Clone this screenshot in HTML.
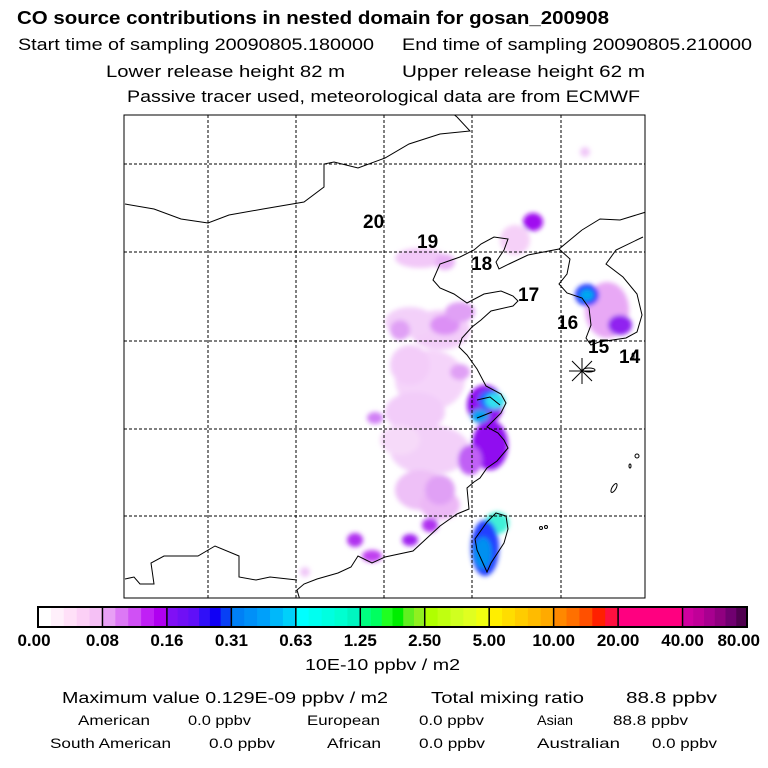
<!DOCTYPE html>
<html><head><meta charset="utf-8"><style>
html,body{margin:0;padding:0;background:#fff;}
svg{display:block;font-family:"Liberation Sans",sans-serif;}
</style></head><body>
<svg width="768" height="768" viewBox="0 0 768 768" id="svg">
<defs>
<filter id="blur" x="-30%" y="-30%" width="160%" height="160%"><feGaussianBlur stdDeviation="2.5"/></filter>
<clipPath id="mapclip"><rect x="124" y="115" width="521" height="483"/></clipPath>
</defs>
<g>
<text x="17" y="24" font-size="18" font-weight="bold" textLength="592" lengthAdjust="spacingAndGlyphs">CO  source contributions in nested domain for gosan_200908</text>
<text x="18" y="50" font-size="17" textLength="356" lengthAdjust="spacingAndGlyphs">Start time of sampling 20090805.180000</text>
<text x="402" y="50" font-size="17" textLength="350" lengthAdjust="spacingAndGlyphs">End time of sampling 20090805.210000</text>
<text x="106" y="77" font-size="17" textLength="239" lengthAdjust="spacingAndGlyphs">Lower release height   82 m</text>
<text x="402" y="77" font-size="17" textLength="243" lengthAdjust="spacingAndGlyphs">Upper release height   62 m</text>
<text x="127" y="102" font-size="17" textLength="513" lengthAdjust="spacingAndGlyphs">Passive tracer used, meteorological data are from ECMWF</text>
</g>
<g id="plume" clip-path="url(#mapclip)" filter="url(#blur)"></g>
<g id="grid"></g>
<g fill="none" stroke="#000" stroke-width="1" clip-path="url(#mapclip)">
<polyline points="125,204 154,209 181,219 208,223 229,215 263,209 304,202 324,187 324,164 334,162 358,168 385,158 409,144 440,134 470,131 457,117 452,113"/>
<polyline points="582,230 559,249 528,255 509,264 499,269 496,262 504,250 508,239 494,237 481,244 474,250 460,257 440,264 433,280 440,288 454,294 467,303 484,294 501,291 513,296 518,301 513,306 491,311 481,320 472,327 462,338 459,347 467,355 477,369 486,386 501,394 506,403 501,413 494,420 487,427 498,433 504,440 508,448 497,461 487,468 480,478 474,482 467,488 469,509 457,514 440,526 426,539 413,551 385,557 372,563 358,556 351,567 338,573 317,579 304,584 297,590 300,600"/>
<polyline points="297,580 270,577 256,580 239,577 239,556 215,546 198,556 181,556 164,556 151,563 154,584 140,584 134,577 125,579"/>
<polyline points="559,249 570,259 567,274 559,284 567,293 582,298 589,308 591,325 586,338 591,345 599,342 626,338 637,332 642,315 637,294 623,277 606,264 616,250 643,237"/>
<polyline points="582,230 600,219 620,220 646,212"/>
<polygon points="496,513 506,516 508,529 504,543 491,563 487,572 477,550 475,539 487,522"/>
<polyline points="477,400 490,397 500,405"/><polyline points="477,418 492,412"/>
<ellipse cx="589" cy="370" rx="6" ry="2"/>
<ellipse cx="637" cy="456" rx="2" ry="2"/><ellipse cx="630" cy="466" rx="1" ry="2"/>
<ellipse cx="614" cy="488" rx="2" ry="5" transform="rotate(30 614 488)"/>
<ellipse cx="541" cy="528" rx="1.5" ry="1.5"/><ellipse cx="546" cy="527" rx="1.5" ry="1.5"/>
<ellipse cx="633" cy="356" rx="1" ry="3"/>
</g>
<g stroke="#000" stroke-width="1">
<line x1="569" y1="371" x2="595" y2="371"/><line x1="582" y1="358" x2="582" y2="384"/>
<line x1="572" y1="361" x2="592" y2="381"/><line x1="572" y1="381" x2="592" y2="361"/>
</g>
<g id="labels" font-size="19" font-weight="bold"></g>
<rect x="124" y="115" width="521" height="483" fill="none" stroke="#000" stroke-width="1"/>
<g id="cbar"></g>
<text x="305" y="670" font-size="16" textLength="155" lengthAdjust="spacingAndGlyphs">10E-10 ppbv / m2</text>
<g font-size="16">
<text x="62" y="703" textLength="326" lengthAdjust="spacingAndGlyphs">Maximum value  0.129E-09 ppbv / m2</text>
<text x="431" y="703" textLength="153" lengthAdjust="spacingAndGlyphs">Total mixing ratio</text>
<text x="626" y="703" textLength="91" lengthAdjust="spacingAndGlyphs">88.8 ppbv</text>
</g>
<g font-size="14">
<text x="78" y="725" textLength="72" lengthAdjust="spacingAndGlyphs">American</text>
<text x="188" y="725" textLength="63" lengthAdjust="spacingAndGlyphs">0.0 ppbv</text>
<text x="307" y="725" textLength="73" lengthAdjust="spacingAndGlyphs">European</text>
<text x="419" y="725" textLength="65" lengthAdjust="spacingAndGlyphs">0.0 ppbv</text>
<text x="537" y="725" textLength="36" lengthAdjust="spacingAndGlyphs">Asian</text>
<text x="613" y="725" textLength="75" lengthAdjust="spacingAndGlyphs">88.8 ppbv</text>
<text x="50" y="748" textLength="121" lengthAdjust="spacingAndGlyphs">South American</text>
<text x="209" y="748" textLength="66" lengthAdjust="spacingAndGlyphs">0.0 ppbv</text>
<text x="327" y="748" textLength="54" lengthAdjust="spacingAndGlyphs">African</text>
<text x="419" y="748" textLength="66" lengthAdjust="spacingAndGlyphs">0.0 ppbv</text>
<text x="537" y="748" textLength="83" lengthAdjust="spacingAndGlyphs">Australian</text>
<text x="652" y="748" textLength="65" lengthAdjust="spacingAndGlyphs">0.0 ppbv</text>
</g>
</svg>
<script>
const NS="http://www.w3.org/2000/svg";
const cbarLabels=["0.00","0.08","0.16","0.31","0.63","1.25","2.50","5.00","10.00","20.00","40.00","80.00"];
const cbarColors=[
["#ffffff","#fff0fb","#ffe0f8","#fcd0f6","#f5c0f5"],
["#e8a0f5","#dc78f5","#d050f5","#c020f5","#b000f0"],
["#8010f5","#7010f5","#6010f8","#3010f8","#1000f5","#0840f5"],
["#0080f5","#0090f8","#00a0fa","#00b8fa","#00d0fa"],
["#00ffff","#00fff0","#00ffe0","#00ffd0","#00f5c0"],
["#00ff80","#00ff60","#20ff20","#00ee00","#60f020","#90f020"],
["#b0ff00","#c0ff10","#d0ff20","#e0ff20","#f0ff10"],
["#ffee00","#ffdd00","#ffcc00","#ffbb00","#ffaa00"],
["#ff8800","#ff7000","#ff5000","#ff2000","#ff1040"],
["#ff0080","#ff0080"],
["#d000a0","#c00098","#a80090","#900080","#700070","#500050"]];
const lonLines=[208,296,384,472,561];
const latLines=[164,252,341,429,516];
const dayLabels=["20","19","18","17","16","15","14"];
const dayX=[363,417,471,518,557,588,619];
const dayY=[228,248,270,301,329,353,363];
const plumeX=[440,410,430,415,430,420,440,400,410,445,460,400,460,375,533,515,420,445,585,607,620,587,587,485,490,495,480,490,470,497,485,483,430,410,355,372,440,305];
const plumeY=[330,322,380,412,450,490,505,440,365,325,312,330,372,418,222,240,258,262,152,310,325,295,295,405,400,401,416,445,460,523,548,553,525,540,540,556,490,572];
const plumeRX=[30,25,35,30,40,25,20,20,20,15,15,10,10,8,10,15,25,10,5,22,12,12,7,18,12,10,9,18,12,12,14,9,8,8,8,10,15,5];
const plumeRY=[20,15,30,20,25,20,15,15,20,10,10,10,8,6,9,15,10,8,5,28,10,11,6,20,10,8,7,25,15,11,28,16,7,6,7,6,15,5];
const plumeC=["#f3cdf9","#f3d0f9","#f5d4fa","#f2ccf9","#f3d0f9","#eec0f7","#ecb8f6","#f6daf9","#f3ccf9","#dc90f5","#e0a0f5","#e0a0f5","#e0a0f5","#d080f5","#a010f0","#f5d0f8","#f2c8f8","#e8b0f5","#f0c8f8","#e8a8f5","#9020f0","#2030ff","#00a8f0","#9010f0","#2060ff","#30e0f0","#00a0f0","#9010f0","#c060f5","#40f0d8","#2040ff","#0090f0","#b030f0","#a020f0","#b030f0","#c040f0","#e0a0f5","#f0c8f8"];
const pg=document.getElementById('plume');
for(let i=0;i<plumeX.length;i++){
 const e=document.createElementNS(NS,'ellipse');
 e.setAttribute('cx',plumeX[i]);e.setAttribute('cy',plumeY[i]);
 e.setAttribute('rx',plumeRX[i]);e.setAttribute('ry',plumeRY[i]);
 e.setAttribute('fill',plumeC[i]);
 
 
 pg.appendChild(e);
}
const gg=document.getElementById('grid');
lonLines.forEach(x=>{const l=document.createElementNS(NS,'line');
 l.setAttribute('x1',x);l.setAttribute('x2',x);l.setAttribute('y1',115);l.setAttribute('y2',598);
 l.setAttribute('stroke','#000');l.setAttribute('stroke-dasharray','3,2');
 
 
 gg.appendChild(l);});
latLines.forEach(y=>{const l=document.createElementNS(NS,'line');
 l.setAttribute('y1',y);l.setAttribute('y2',y);l.setAttribute('x1',124);l.setAttribute('x2',645);
 l.setAttribute('stroke','#000');l.setAttribute('stroke-dasharray','3,2');
 
 
 gg.appendChild(l);});
const lg=document.getElementById('labels');
dayLabels.forEach((t,i)=>{const tx=document.createElementNS(NS,'text');
 tx.setAttribute('x',dayX[i]);tx.setAttribute('y',dayY[i]);tx.textContent=t;
 
 
 lg.appendChild(tx);});
const cb=document.getElementById('cbar');
const x0=38,x1=747,y0=607,h=20,n=cbarColors.length,sw=(x1-x0)/n;
cbarColors.forEach((seg,i)=>{
 const sx=x0+i*sw,w=sw/seg.length;
 seg.forEach((c,j)=>{const r=document.createElementNS(NS,'rect');
  r.setAttribute('x',sx+j*w);r.setAttribute('y',y0);r.setAttribute('width',w+0.5);r.setAttribute('height',h);r.setAttribute('fill',c);
  
  
  cb.appendChild(r);});
 if(i>0){const l=document.createElementNS(NS,'line');
  l.setAttribute('x1',sx);l.setAttribute('x2',sx);l.setAttribute('y1',y0);l.setAttribute('y2',y0+h);l.setAttribute('stroke','#000');l.setAttribute('stroke-width','1.5');
  
  
  cb.appendChild(l);}
});
const fr=document.createElementNS(NS,'rect');
fr.setAttribute('x',x0);fr.setAttribute('y',y0);fr.setAttribute('width',x1-x0);fr.setAttribute('height',h);fr.setAttribute('fill','none');fr.setAttribute('stroke','#000');fr.setAttribute('stroke-width','2');


cb.appendChild(fr);
cbarLabels.forEach((t,i)=>{const tx=document.createElementNS(NS,'text');
 let x=x0+i*sw,anchor='middle';
 if(i===0){x=x0-4;} if(i===cbarLabels.length-1){x=x1+13;anchor='end';}
 tx.setAttribute('x',x);tx.setAttribute('y',646);tx.setAttribute('text-anchor',anchor);
 tx.setAttribute('font-size','17');tx.setAttribute('font-weight','bold');
 tx.textContent=t;
 
 
 cb.appendChild(tx);});
</script>
</body></html>
